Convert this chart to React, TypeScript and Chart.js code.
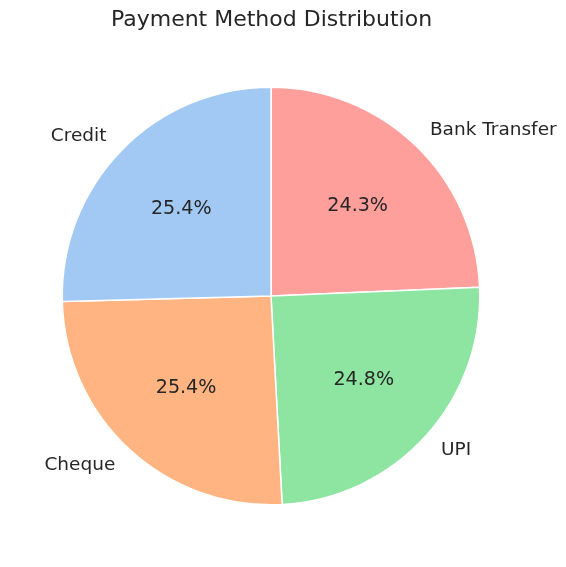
import React, { useEffect, useRef } from "react";
import { Chart, registerables } from "chart.js";

Chart.register(...registerables);

// Clockwise from top (matplotlib draws counter-clockwise starting at 90°)
const categories = ["Bank Transfer", "UPI", "Cheque", "Credit"];
const values = [24.3, 24.8, 25.4, 25.4];
const colors = ["#ff9f9b", "#8de5a1", "#ffb482", "#a1c9f4"];
const titleText = "Payment Method Distribution";

const FONT = "'DejaVu Sans', sans-serif";
const TEXT_COLOR = "#262626";

const labelPlugin = {
  id: "pieLabels",
  afterDatasetsDraw(chart: any) {
    const ctx = chart.ctx as CanvasRenderingContext2D;
    const meta = chart.getDatasetMeta(0);
    const data = chart.data.datasets[0].data as number[];
    const total = data.reduce((a, b) => a + b, 0);
    ctx.save();
    ctx.fillStyle = TEXT_COLOR;
    meta.data.forEach((arc: any, i: number) => {
      const { x, y, startAngle, endAngle, outerRadius } = arc.getProps(
        ["x", "y", "startAngle", "endAngle", "outerRadius"],
        true
      );
      const mid = (startAngle + endAngle) / 2;
      const cx = Math.cos(mid);
      const cy = Math.sin(mid);
      // outer category label
      const lx = x + cx * outerRadius * 1.1;
      const ly = y + cy * outerRadius * 1.1;
      ctx.font = `18.5px ${FONT}`;
      ctx.textBaseline = "middle";
      ctx.textAlign = cx >= 0 ? "left" : "right";
      ctx.fillText(String(chart.data.labels[i]), lx, ly);
      // percentage
      const px = x + cx * outerRadius * 0.6;
      const py = y + cy * outerRadius * 0.6;
      ctx.font = `19.1px ${FONT}`;
      ctx.textAlign = "center";
      ctx.fillText(((data[i] / total) * 100).toFixed(1) + "%", px, py);
    });
    // title
    ctx.font = `22px ${FONT}`;
    ctx.textAlign = "center";
    ctx.textBaseline = "middle";
    ctx.fillText(titleText, 271.5, 20.5);
    ctx.restore();
  },
};

export default function App() {
  const ref = useRef<HTMLCanvasElement>(null);
  useEffect(() => {
    document.body.style.margin = "0";
    const chart = new Chart(ref.current!, {
      type: "pie",
      data: {
        labels: categories,
        datasets: [
          {
            data: values,
            backgroundColor: colors,
            borderColor: "#ffffff",
            borderWidth: 1.5,
          },
        ],
      },
      options: {
        responsive: false,
        animation: false,
        layout: { padding: { left: 61.5, right: 85.5, top: 86.5, bottom: 61.5 } },
        plugins: {
          legend: { display: false },
          title: { display: false },
          tooltip: { enabled: false },
        },
      },
      plugins: [labelPlugin],
    });
    return () => chart.destroy();
  }, []);
  return (
    <div style={{ width: 566, height: 567, background: "#fff" }}>
      <canvas ref={ref} width={566} height={567} style={{ display: "block" }} />
    </div>
  );
}
